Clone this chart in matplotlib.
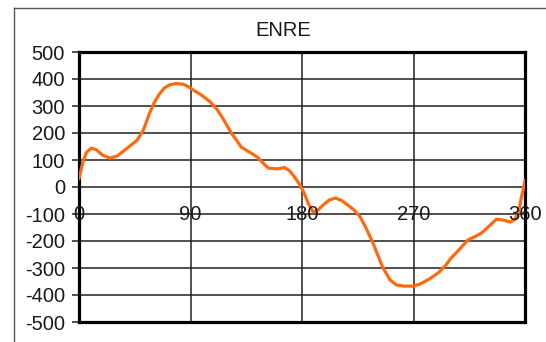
import matplotlib
matplotlib.use("Agg")
import matplotlib.pyplot as plt
from matplotlib.lines import Line2D
import matplotlib.transforms as mtransforms

title = "ENRE"
angle = [0, 3, 6, 10, 14, 19, 25, 31, 37, 42, 47, 52, 57, 61, 65, 69, 73, 78, 84, 88,
         92, 99, 106, 111, 116, 123, 131, 138, 144, 150, 153, 160, 166, 170, 174, 178,
         182, 185, 189, 193, 197, 202, 207, 212, 217, 222, 227, 232, 237, 241, 245, 251,
         256, 262, 270, 276, 283, 290, 296, 300, 305, 314, 320, 325, 331, 337, 343, 348,
         352, 355, 357, 359, 360]
enre = [30, 90, 128, 144, 138, 118, 107, 115, 137, 155, 174, 211, 274, 315, 345, 367, 378,
        383, 381, 372, 360, 340, 315, 290, 255, 200, 148, 128, 111, 82, 70, 67, 72, 60, 37,
        10, -25, -60, -93, -85, -67, -48, -41, -50, -67, -85, -111, -155, -204, -250, -296,
        -344, -362, -367, -367, -358, -340, -318, -290, -265, -241, -196, -183, -170, -145,
        -119, -123, -130, -120, -90, -40, 0, 25]
x_ticks = [0, 90, 180, 270, 360]
x_labels = ["0", "90", "180", "270", "360"]
y_ticks = [500, 400, 300, 200, 100, 0, -100, -200, -300, -400, -500]
y_labels = ["500", "400", "300", "200", "100", "0", "-100", "-200", "-300", "-400", "-500"]

plt.rcParams['font.family'] = ['Liberation Sans', 'DejaVu Sans']
W, H = 546, 342
fig = plt.figure(figsize=(W / 100, H / 100), dpi=100)
fs = 14.5
tc = '#1a1a1a'

ax = fig.add_axes([79 / W, 1 - 322 / H, (525 - 79) / W, (322 - 52) / H])
ax.set_xlim(0, 360)
ax.set_ylim(-500, 500)
ax.plot(angle, enre, color='#ff6a10', lw=2.3, solid_capstyle='round', zorder=3)

for v in x_ticks[1:-1]:
    ax.axvline(v, color='#202020', lw=1.1, zorder=1)
for v in y_ticks[1:-1]:
    ax.axhline(v, color='#202020', lw=1.1, zorder=1)

for s in ax.spines.values():
    s.set_linewidth(2.3)
    s.set_color('black')

ax.set_yticks(y_ticks)
ax.set_yticklabels(y_labels, fontsize=fs, color=tc)
ax.tick_params(axis='y', length=5, width=1.1, pad=5, color='#202020')
ax.set_xticks([])

off = mtransforms.offset_copy(ax.transData, fig=fig, x=0, y=-28, units='dots')
for xv, lab in zip(x_ticks, x_labels):
    ax.text(xv, 0, lab, transform=off, fontsize=fs, color=tc, ha='center', va='center',
            zorder=4, clip_on=False)

fig.text(283 / W, 1 - 31 / H, title, fontsize=fs, color=tc, ha='center', va='center')

fig.add_artist(Line2D([14 / W, 14 / W], [0, 1 - 8 / H], transform=fig.transFigure,
                      color='#555555', lw=1.0))
fig.add_artist(Line2D([14 / W, 1], [1 - 8 / H, 1 - 8 / H], transform=fig.transFigure,
                      color='#555555', lw=1.0))

fig.savefig("out.png", dpi=100)
